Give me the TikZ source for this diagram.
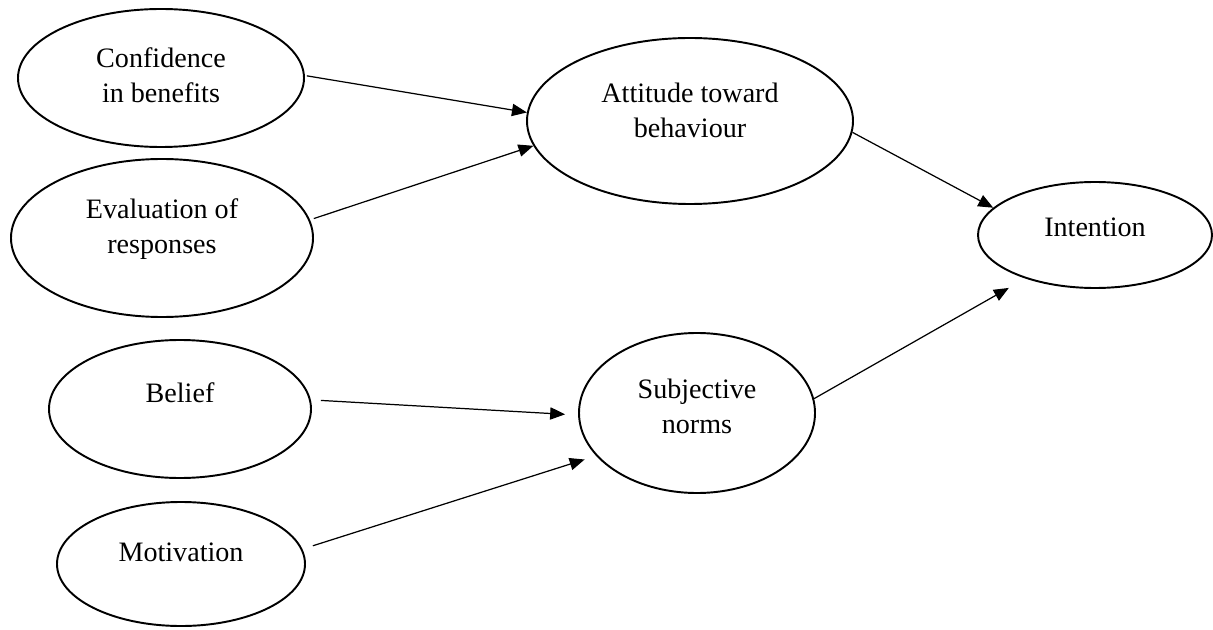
\documentclass[tikz,border=0pt]{standalone}
\usepackage{fontspec}
\setmainfont{Liberation Serif}
\usetikzlibrary{shapes.geometric,arrows.meta}

\begin{document}
\begin{tikzpicture}
\tikzstyle{every node}=[font=\fontsize{16}{20}\selectfont, align=center, inner sep=0pt];
\tikzstyle{blob}=[draw, shape=ellipse, line width=1.1pt];
\tikzstyle{arr}=[line width=0.7pt, -{Triangle[length=8.5pt,width=7pt]}];
\useasboundingbox (0,0) rectangle (24.26,12.58);
% name / centre / size / text lift / text
\foreach \n/\x/\y/\w/\h/\s/\t in {
conf/3.22/11.02/5.72/2.76/0.05/{Confidence\\in benefits},
eval/3.24/7.82/6.04/3.16/0.18/{Evaluation of\\responses},
att/13.80/10.16/6.52/3.32/0.22/{Attitude toward\\behaviour},
int/21.90/7.88/4.68/2.12/0.16/{Intention},
belief/3.60/4.40/5.24/2.76/0.32/{Belief},
motiv/3.62/1.30/4.96/2.48/0.24/{Motivation},
subj/13.94/4.32/4.72/3.20/0.14/{Subjective\\norms}}
{
\path (\x,\y) node[blob, minimum width=\w cm, minimum height=\h cm] (\n) {};
\path (\x,\y+\s) node (\n-t) {\t};
}
\draw
(conf.1) edge [arr, shorten <=0.04cm] (att.177)
(eval.7) edge [arr, shorten <=0.08cm] (att.189)
(att.356) edge [arr] (int.165)
(belief.4) edge [arr, shorten <=0.2cm, shorten >=0.26cm] (subj.181)
(motiv.7) edge [arr, shorten <=0.22cm, shorten >=0.24cm] (subj.203)
(subj.7) edge [arr, shorten >=0.38cm] (int.212)
;
\end{tikzpicture}
\end{document}
